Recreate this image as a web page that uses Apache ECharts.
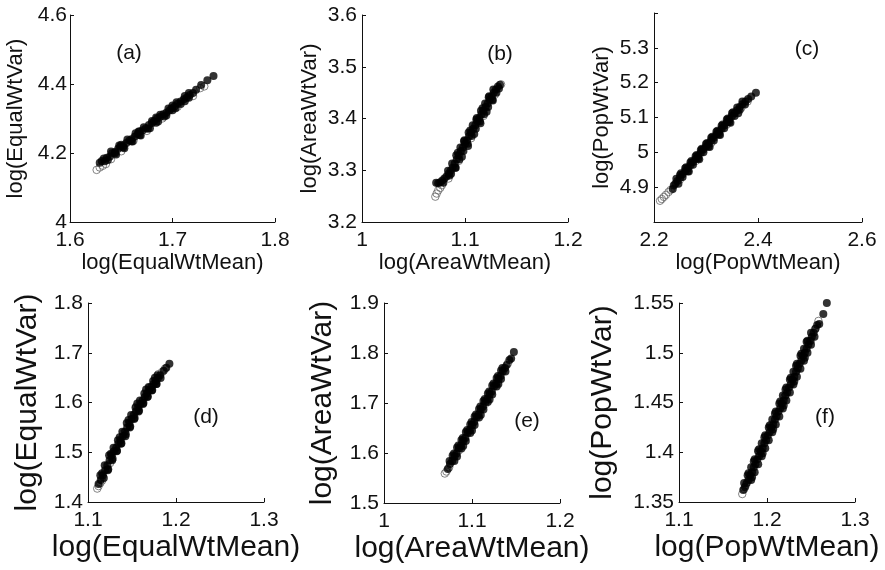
<!DOCTYPE html>
<html><head><meta charset="utf-8">
<script src="https://cdn.jsdelivr.net/npm/echarts@6/dist/echarts.min.js"></script>
<style>html,body{margin:0;padding:0;background:#fff}#c{width:885px;height:570px}</style>
</head><body><div id="c"></div><script>
// ---------- DATA ----------
const panelTags = ['(a)','(b)','(c)','(d)','(e)','(f)'];
const xTitles = ['log(EqualWtMean)','log(AreaWtMean)','log(PopWtMean)','log(EqualWtMean)','log(AreaWtMean)','log(PopWtMean)'];
const yTitles = ['log(EqualWtVar)','log(AreaWtVar)','log(PopWtVar)','log(EqualWtVar)','log(AreaWtVar)','log(PopWtVar)'];

const xTicksA = [1.6,1.7,1.8];   const yTicksA = [4,4.2,4.4,4.6];
const xTicksB = [1,1.1,1.2];     const yTicksB = [3.2,3.3,3.4,3.5,3.6];
const xTicksC = [2.2,2.4,2.6];   const yTicksC = [4.9,5,5.1,5.2,5.3];
const xTicksD = [1.1,1.2,1.3];   const yTicksD = [1.4,1.5,1.6,1.7,1.8];
const xTicksE = [1,1.1,1.2];     const yTicksE = [1.5,1.6,1.7,1.8,1.9];
const xTicksF = [1.1,1.2,1.3];   const yTicksF = [1.35,1.4,1.45,1.5,1.55];
const yRangeC = [4.8,5.4];

const aFilled = [[1.629,4.172],[1.631,4.177],[1.634,4.176],[1.636,4.186],[1.639,4.190],[1.641,4.199],[1.644,4.203],[1.647,4.212],[1.649,4.218],[1.652,4.221],[1.655,4.229],[1.658,4.236],[1.660,4.240],[1.663,4.247],[1.666,4.255],[1.668,4.262],[1.671,4.266],[1.674,4.272],[1.677,4.281],[1.680,4.287],[1.682,4.292],[1.685,4.300],[1.688,4.305],[1.691,4.312],[1.694,4.317],[1.697,4.323],[1.699,4.330],[1.702,4.335],[1.705,4.343],[1.708,4.349],[1.711,4.356],[1.714,4.361],[1.717,4.368],[1.720,4.374],[1.723,4.383],[1.728,4.397],[1.734,4.411],[1.740,4.423],
[1.637,4.180],[1.645,4.196],[1.653,4.214],[1.661,4.233],[1.669,4.251],[1.678,4.272],[1.686,4.291],[1.694,4.309],[1.703,4.330],[1.712,4.350],
[1.633,4.184],[1.650,4.224],[1.667,4.262],[1.684,4.303],[1.700,4.338],[1.716,4.374],
[1.640,4.204],[1.648,4.222],[1.656,4.239],[1.664,4.257],[1.672,4.275],[1.680,4.293],[1.688,4.311],[1.696,4.329],[1.704,4.347],[1.712,4.365],
[1.644,4.199],[1.652,4.217],[1.660,4.234],[1.668,4.252],[1.676,4.270],[1.684,4.288],[1.692,4.306],[1.700,4.324],[1.708,4.342],[1.716,4.360]];
const aOpen = [[1.626,4.151],[1.629,4.158],[1.632,4.163],[1.635,4.168],[1.640,4.182],[1.650,4.205],[1.662,4.236],[1.675,4.264],[1.690,4.300],[1.705,4.334],[1.720,4.365],[1.731,4.393],[1.727,4.388]];

const bFilled = [[1.072,3.276],[1.074,3.275],[1.076,3.277],[1.078,3.280],[1.080,3.284],[1.082,3.288],[1.084,3.293],[1.086,3.299],[1.088,3.305],[1.090,3.313],[1.092,3.321],[1.094,3.329],[1.096,3.337],[1.098,3.344],[1.100,3.351],[1.102,3.358],[1.104,3.366],[1.106,3.373],[1.108,3.380],[1.110,3.387],[1.112,3.394],[1.114,3.401],[1.116,3.408],[1.118,3.415],[1.120,3.422],[1.122,3.429],[1.124,3.436],[1.126,3.443],[1.128,3.450],[1.130,3.456],[1.132,3.462],[1.134,3.465],
[1.079,3.276],[1.085,3.290],[1.091,3.305],[1.097,3.326],[1.103,3.347],[1.109,3.370],[1.115,3.391],[1.121,3.413],[1.127,3.435],[1.133,3.458],
[1.093,3.334],[1.099,3.356],[1.105,3.377],[1.111,3.398],[1.117,3.420],[1.123,3.441],
[1.0835,3.299],[1.0875,3.313],[1.0915,3.329],[1.0955,3.344],[1.0995,3.358],[1.1035,3.373],[1.1075,3.387],[1.1115,3.401],[1.1155,3.415],[1.1195,3.429],[1.1235,3.443],[1.1275,3.456],
[1.0865,3.293],[1.0905,3.305],[1.0945,3.321],[1.0985,3.337],[1.1025,3.351],[1.1065,3.366],[1.1105,3.380],[1.1145,3.394],[1.1185,3.408],[1.1225,3.422],[1.1265,3.436],[1.1305,3.450]];
const bOpen = [[1.0712,3.249],[1.0725,3.255],[1.0740,3.261],[1.0760,3.266],[1.0775,3.271],[1.084,3.284],[1.094,3.318],[1.106,3.362],[1.118,3.405],[1.129,3.446],[1.135,3.466]];

const cFilled = [[2.236,4.895],[2.238,4.905],[2.241,4.910],[2.245,4.918],[2.250,4.927],[2.255,4.937],[2.260,4.946],[2.265,4.954],[2.270,4.963],[2.275,4.972],[2.280,4.981],[2.285,4.990],[2.290,4.999],[2.295,5.008],[2.300,5.016],[2.305,5.025],[2.310,5.034],[2.315,5.042],[2.320,5.051],[2.325,5.059],[2.330,5.068],[2.335,5.077],[2.340,5.086],[2.345,5.095],[2.350,5.104],[2.355,5.112],[2.360,5.121],[2.365,5.130],[2.370,5.138],[2.376,5.146],[2.381,5.153],[2.387,5.160],[2.396,5.171],
[2.243,4.924],[2.252,4.940],[2.262,4.957],[2.272,4.975],[2.282,4.992],[2.292,5.010],[2.302,5.027],[2.312,5.045],[2.322,5.062],[2.332,5.080],[2.342,5.097],[2.352,5.115],
[2.247,4.910],[2.267,4.945],[2.287,4.980],[2.307,5.015],[2.327,5.050],[2.347,5.085],[2.362,5.112],
[2.250,4.935],[2.260,4.954],[2.270,4.971],[2.280,4.989],[2.290,5.007],[2.300,5.024],[2.310,5.042],[2.320,5.059],[2.330,5.076],[2.340,5.094],[2.350,5.112],[2.360,5.129],[2.370,5.146],
[2.255,4.929],[2.265,4.946],[2.275,4.964],[2.285,4.982],[2.295,5.000],[2.305,5.017],[2.315,5.034],[2.325,5.051],[2.335,5.069],[2.345,5.087],[2.355,5.104],[2.365,5.122],[2.375,5.137]];
const cOpen = [[2.2116,4.861],[2.2150,4.866],[2.2190,4.872],[2.2230,4.878],[2.2280,4.886],[2.2320,4.892],[2.250,4.922],[2.280,4.975],[2.310,5.027],[2.340,5.080],[2.368,5.128],[2.380,5.146]];

const dFilled = [[1.112,1.436],[1.1145,1.444],[1.117,1.454],[1.1195,1.464],[1.122,1.474],[1.1245,1.484],[1.127,1.494],[1.1295,1.502],[1.132,1.509],[1.1345,1.517],[1.137,1.524],[1.1395,1.532],[1.142,1.541],[1.1445,1.550],[1.147,1.559],[1.1495,1.567],[1.152,1.575],[1.1545,1.582],[1.157,1.590],[1.1595,1.597],[1.162,1.604],[1.1645,1.611],[1.167,1.618],[1.1695,1.624],[1.172,1.631],[1.1745,1.637],[1.177,1.643],[1.1795,1.649],[1.182,1.655],[1.186,1.664],[1.189,1.670],[1.1925,1.678],
[1.118,1.448],[1.123,1.466],[1.128,1.487],[1.133,1.503],[1.138,1.518],[1.143,1.536],[1.148,1.552],[1.153,1.569],[1.158,1.584],[1.163,1.599],[1.168,1.612],[1.173,1.625],[1.178,1.637],
[1.116,1.458],[1.126,1.497],[1.136,1.530],[1.146,1.565],[1.156,1.598],[1.166,1.626],[1.176,1.650],
[1.114,1.454],[1.119,1.474],[1.124,1.494],[1.129,1.509],[1.134,1.524],[1.139,1.541],[1.144,1.559],[1.149,1.575],[1.154,1.590],[1.159,1.604],[1.164,1.618],[1.169,1.631],[1.174,1.643],[1.179,1.655],
[1.1225,1.464],[1.1275,1.484],[1.1325,1.502],[1.1375,1.517],[1.1425,1.532],[1.1475,1.550],[1.1525,1.567],[1.1575,1.582],[1.1625,1.597],[1.1675,1.611],[1.1725,1.624],[1.1775,1.637],[1.1825,1.649]];
const dOpen = [[1.1105,1.427],[1.112,1.432],[1.114,1.438],[1.116,1.443],[1.125,1.478],[1.140,1.538],[1.155,1.592],[1.170,1.630],[1.180,1.657],[1.184,1.661],[1.1875,1.668]];

const eFilled = [[1.0725,1.568],[1.075,1.578],[1.0775,1.584],[1.080,1.593],[1.0825,1.599],[1.085,1.609],[1.0875,1.615],[1.090,1.624],[1.0925,1.630],[1.095,1.640],[1.0975,1.646],[1.100,1.656],[1.1025,1.662],[1.105,1.671],[1.1075,1.677],[1.110,1.687],[1.1125,1.693],[1.115,1.702],[1.1175,1.708],[1.120,1.717],[1.1225,1.723],[1.125,1.733],[1.1275,1.739],[1.130,1.748],[1.1325,1.754],[1.135,1.763],[1.1375,1.770],[1.1395,1.776],[1.1425,1.786],[1.1445,1.789],[1.1476,1.802],
[1.078,1.595],[1.083,1.611],[1.088,1.626],[1.093,1.642],[1.098,1.657],[1.103,1.673],[1.108,1.688],[1.113,1.704],[1.118,1.719],[1.123,1.735],[1.128,1.750],[1.133,1.765],
[1.080,1.584],[1.090,1.614],[1.100,1.645],[1.110,1.676],[1.120,1.707],[1.130,1.738],
[1.0745,1.584],[1.0795,1.599],[1.0845,1.615],[1.0895,1.630],[1.0945,1.646],[1.0995,1.662],[1.1045,1.677],[1.1095,1.693],[1.1145,1.708],[1.1195,1.723],[1.1245,1.739],[1.1295,1.754],[1.1345,1.770],
[1.083,1.593],[1.088,1.609],[1.093,1.624],[1.098,1.640],[1.103,1.656],[1.108,1.671],[1.113,1.687],[1.118,1.702],[1.123,1.717],[1.128,1.733],[1.133,1.748],[1.138,1.763]];
const eOpen = [[1.0691,1.559],[1.0710,1.563],[1.0740,1.571],[1.085,1.605],[1.100,1.652],[1.115,1.698],[1.130,1.744],[1.141,1.780]];

const fFilled = [[1.173,1.362],[1.175,1.365],[1.177,1.369],[1.179,1.372],[1.181,1.377],[1.183,1.380],[1.185,1.385],[1.187,1.388],[1.189,1.393],[1.191,1.396],[1.193,1.401],[1.195,1.404],[1.197,1.409],[1.199,1.412],[1.201,1.417],[1.203,1.420],[1.205,1.425],[1.207,1.428],[1.209,1.433],[1.211,1.436],[1.213,1.441],[1.215,1.444],[1.217,1.449],[1.219,1.452],[1.221,1.457],[1.223,1.460],[1.225,1.465],[1.227,1.468],[1.229,1.473],[1.231,1.476],[1.233,1.481],[1.235,1.484],[1.237,1.489],[1.239,1.492],[1.241,1.497],[1.243,1.500],[1.245,1.504],[1.247,1.508],[1.249,1.512],[1.251,1.516],[1.253,1.520],[1.255,1.524],[1.257,1.528],[1.2594,1.529],[1.264,1.539],[1.268,1.550],
[1.179,1.379],[1.185,1.391],[1.191,1.403],[1.197,1.415],[1.203,1.427],[1.209,1.439],[1.215,1.451],[1.221,1.463],[1.227,1.475],[1.233,1.487],[1.239,1.499],[1.245,1.511],
[1.183,1.375],[1.195,1.399],[1.207,1.423],[1.219,1.447],[1.231,1.471],[1.243,1.495],
[1.174,1.369],[1.178,1.377],[1.182,1.385],[1.186,1.393],[1.190,1.401],[1.194,1.409],[1.198,1.417],[1.202,1.425],[1.206,1.433],[1.210,1.441],[1.214,1.449],[1.218,1.457],[1.222,1.465],[1.226,1.473],[1.230,1.481],[1.234,1.489],[1.238,1.497],[1.242,1.504],[1.246,1.512],[1.250,1.520],
[1.182,1.372],[1.186,1.380],[1.190,1.388],[1.194,1.396],[1.198,1.404],[1.202,1.412],[1.206,1.420],[1.210,1.428],[1.214,1.436],[1.218,1.444],[1.222,1.452],[1.226,1.460],[1.230,1.468],[1.234,1.476],[1.238,1.484],[1.242,1.492],[1.246,1.500],[1.250,1.508],[1.254,1.516]];
const fOpen = [[1.1719,1.358],[1.174,1.363],[1.176,1.367],[1.190,1.402],[1.205,1.428],[1.220,1.456],[1.235,1.486],[1.250,1.512],[1.255,1.524],[1.2585,1.532]];

// ---------- LAYOUT / STYLE ----------
const xTicksAll = [xTicksA,xTicksB,xTicksC,xTicksD,xTicksE,xTicksF];
const yTicksAll = [yTicksA,yTicksB,yTicksC,yTicksD,yTicksE,yTicksF];
const filledAll = [aFilled,bFilled,cFilled,dFilled,eFilled,fFilled];
const openAll = [aOpen,bOpen,cOpen,dOpen,eOpen,fOpen];

const layout = [
  {left:70,  top:15,  width:205, height:207, yGap:43, xGap:29, nameSize:22, tag:[129,53]},
  {left:362, top:15,  width:206, height:207, yGap:41, xGap:29, nameSize:22, tag:[500,54]},
  {left:654, top:13,  width:208, height:209, yGap:41, xGap:30, nameSize:22, tag:[807,49]},
  {left:88,  top:303, width:176, height:199, yGap:45, xGap:31, nameSize:30, tag:[206,417]},
  {left:384, top:303, width:176, height:200, yGap:46, xGap:31, nameSize:30, tag:[527,421]},
  {left:679, top:303, width:176, height:199, yGap:61, xGap:31, nameSize:30, tag:[825,417]}
];
const FONT = '"Liberation Sans", Arial, Helvetica, sans-serif';
const INK = '#111';

function inTicks(v, ticks){ return ticks.some(t => Math.abs(t - v) < 1e-6); }

const grid = [], xAxis = [], yAxis = [], series = [], graphic = [];
layout.forEach((L, i) => {
  grid.push({left:L.left, top:L.top, width:L.width, height:L.height, containLabel:false});
  const xt = xTicksAll[i], yt = yTicksAll[i];
  const ymin = (i === 2) ? yRangeC[0] : yt[0];
  const ymax = (i === 2) ? yRangeC[1] : yt[yt.length-1];
  const axCommon = {
    axisLine:{show:true, onZero:false, lineStyle:{color:INK, width:1}},
    axisTick:{show:true, inside:true, length:4, lineStyle:{color:INK}},
    splitLine:{show:false},
    nameLocation:'middle',
    nameTextStyle:{fontFamily:FONT, fontSize:L.nameSize, color:INK}
  };
  xAxis.push(Object.assign({}, axCommon, {
    type:'value', gridIndex:i, min:xt[0], max:xt[xt.length-1], interval:xt[1]-xt[0],
    name:xTitles[i], nameGap:L.xGap,
    axisLabel:{fontFamily:FONT, fontSize:21, color:INK, margin:8,
      formatter:v => inTicks(v, xt) ? String(+v.toFixed(3)) : ''}
  }));
  yAxis.push(Object.assign({}, axCommon, {
    type:'value', gridIndex:i, min:ymin, max:ymax, interval:+(yt[1]-yt[0]).toFixed(4),
    name:yTitles[i], nameGap:L.yGap, nameRotate:90,
    axisLabel:{fontFamily:FONT, fontSize:21, color:INK, margin:(i===0?3:5),
      formatter:v => inTicks(v, yt) ? String(+v.toFixed(3)) : ''}
  }));
  series.push({
    type:'scatter', xAxisIndex:i, yAxisIndex:i, data:openAll[i], symbol:'circle', symbolSize:7.5,
    itemStyle:{color:'rgba(255,255,255,0)', borderColor:'#666', borderWidth:1}, silent:true
  });
  series.push({
    type:'scatter', xAxisIndex:i, yAxisIndex:i, data:filledAll[i], symbol:'circle', symbolSize:8,
    itemStyle:{color:'#000'}, silent:true
  });
  graphic.push({type:'text', x:L.tag[0], y:L.tag[1],
    style:{text:panelTags[i], font:'21px ' + FONT, fill:INK, align:'center', verticalAlign:'middle'}});
});

const chart = echarts.init(document.getElementById('c'), null, {renderer:'canvas'});
chart.setOption({animation:false, backgroundColor:'#fff', grid, xAxis, yAxis, series, graphic});
</script></body></html>
